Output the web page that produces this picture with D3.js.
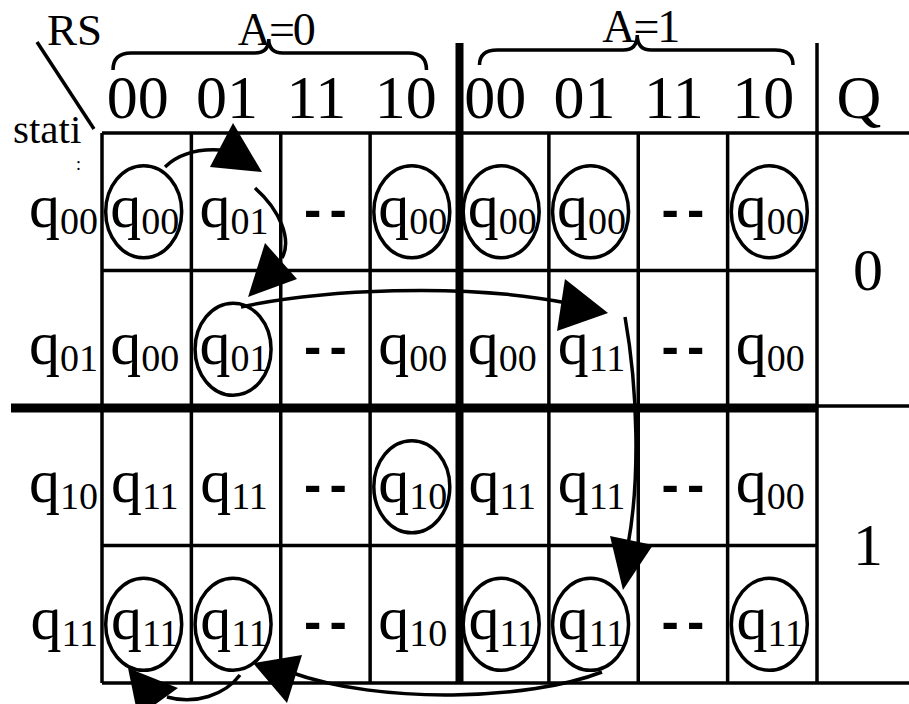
<!DOCTYPE html>
<html>
  <head>
    <meta charset="utf-8">
    <title>Tabella delle transizioni</title>
    <script src="https://cdn.jsdelivr.net/npm/d3@7"></script>
    <style>
      body {
        margin: 0;
        background: #fff;
      }
      svg {
        display: block;
      }
      text {
        font-family: 'Liberation Serif', 'Times New Roman', Times, serif;
      }
      .grid {
        stroke: #000;
        stroke-width: 3.5;
      }
      .thick {
        stroke: #000;
        stroke-width: 9;
      }
      .ring, .arrow, .brace {
        fill: none;
        stroke: #000;
        stroke-width: 3.5;
      }
    </style>
  </head>
  <body>
    <script type="text/javascript">

    // column codes RS, grouped by the input A
    const colCodes = ['00', '01', '11', '10', '00', '01', '11', '10'];
    const groupLabels = ['A=0', 'A=1'];
    // present states (subscripts of q)
    const rowStates = ['00', '01', '10', '11'];
    // next state for each row / column ('--' = don't care)
    const nextStates = [
      ['00', '01', '--', '00', '00', '00', '--', '00'],
      ['00', '01', '--', '00', '00', '11', '--', '00'],
      ['11', '11', '--', '10', '11', '11', '--', '00'],
      ['11', '11', '--', '10', '11', '11', '--', '11']
    ];
    // 1 = stable state (circled)
    const stable = [
      [1, 0, 0, 1, 1, 1, 0, 1],
      [0, 1, 0, 0, 0, 0, 0, 0],
      [0, 0, 0, 1, 0, 0, 0, 0],
      [1, 1, 0, 0, 1, 1, 0, 1]
    ];
    const outputLabels = ['0', '1'];
    // transitions followed in the table: [row, col] -> [row, col]
    const transitions = [
      [[0, 0], [0, 1]],
      [[0, 1], [1, 1]],
      [[1, 1], [1, 5]],
      [[1, 5], [3, 5]],
      [[3, 5], [3, 1]],
      [[3, 1], [3, 0]]
    ];

    const W = 909, H = 704;
    const serif = "'Liberation Serif', 'Times New Roman', Times, serif";

    const svg = d3.select('body').append('svg')
      .attr('width', W)
      .attr('height', H)
      .attr('font-family', serif);

    const x = d3.scaleLinear().domain([0, 8]).range([102, 817]);
    const y = d3.scaleLinear().domain([0, 4]).range([133, 683]);
    const cx = c => (x(c) + x(c + 1)) / 2;
    const cy = r => (y(r) + y(r + 1)) / 2;

    // grid lines
    const g = svg.append('g');
    g.append('line').attr('class', 'grid')
      .attr('x1', x(0)).attr('x2', W).attr('y1', y(0)).attr('y2', y(0));
    g.append('line').attr('class', 'grid')
      .attr('x1', x(0)).attr('x2', W).attr('y1', y(4)).attr('y2', y(4));
    [1, 3].forEach(r => {
      g.append('line').attr('class', 'grid')
        .attr('x1', x(0)).attr('x2', x(8)).attr('y1', y(r)).attr('y2', y(r));
    });
    g.append('line').attr('class', 'thick')
      .attr('x1', 11).attr('x2', x(8)).attr('y1', y(2)).attr('y2', y(2));
    g.append('line').attr('class', 'grid')
      .attr('x1', x(8)).attr('x2', W).attr('y1', y(2) - 2).attr('y2', y(2) - 2);

    d3.range(0, 9).forEach(c => {
      g.append('line')
        .attr('class', c === 4 ? 'thick' : 'grid')
        .style('stroke-width', c === 4 ? 8 : null)
        .attr('x1', x(c)).attr('x2', x(c))
        .attr('y1', (c === 4 || c === 8) ? 43 : y(0))
        .attr('y2', y(4));
    });

    // corner label
    svg.append('line').attr('class', 'grid')
      .attr('x1', 37).attr('y1', 42).attr('x2', 94).attr('y2', 129);
    svg.append('text').attr('x', 47).attr('y', 45)
      .style('font-size', '45px').text('RS');
    svg.append('text').attr('x', 13).attr('y', 143)
      .style('font-size', '41px').text('stati');
    svg.append('text').attr('x', 76).attr('y', 170)
      .style('font-size', '18px').text(':');

    // column headers
    svg.selectAll('.code')
      .data(colCodes).enter()
      .append('text')
      .attr('class', 'code')
      .attr('x', (d, i) => cx(i) - 9)
      .attr('y', y(0) - 15)
      .attr('text-anchor', 'middle')
      .style('font-size', '62px')
      .text(d => d);

    svg.append('text')
      .attr('x', (x(8) + W) / 2 - 4).attr('y', y(0) - 15)
      .attr('text-anchor', 'middle')
      .style('font-size', '62px')
      .text('Q');

    // braces with A labels
    function brace(x1, x2, xm, yH, yEnd, yTip) {
      return 'M' + x1 + ',' + yEnd +
        ' Q' + x1 + ',' + yH + ' ' + (x1 + 18) + ',' + yH +
        ' L' + (xm - 14) + ',' + yH +
        ' Q' + xm + ',' + yH + ' ' + xm + ',' + yTip +
        ' Q' + xm + ',' + yH + ' ' + (xm + 14) + ',' + yH +
        ' L' + (x2 - 18) + ',' + yH +
        ' Q' + x2 + ',' + yH + ' ' + x2 + ',' + yEnd;
    }
    const braces = [
      {x1: x(0) + 11, x2: x(4) - 33, xm: x(2) - 12, yH: 53, yEnd: 70, yTip: 39, tx: x(2) - 5, ty: 45},
      {x1: x(4) + 20, x2: x(8) - 24, xm: x(6) - 1, yH: 50, yEnd: 65, yTip: 35, tx: x(6) + 2, ty: 42}
    ];
    braces.forEach((b, i) => {
      svg.append('path').attr('class', 'brace')
        .attr('d', brace(b.x1, b.x2, b.xm, b.yH, b.yEnd, b.yTip));
      svg.append('text')
        .attr('x', b.tx).attr('y', b.ty)
        .attr('text-anchor', 'middle')
        .style('font-size', '46px')
        .style('letter-spacing', '-2px')
        .text(groupLabels[i]);
    });

    // row labels
    rowStates.forEach((s, r) => {
      const t = svg.append('text')
        .attr('x', x(0) - 4).attr('y', cy(r) + 25)
        .attr('text-anchor', 'end')
        .style('font-size', '62px');
      t.append('tspan').text('q');
      t.append('tspan').attr('dy', 7).style('font-size', '38px').text(s);
    });

    // cells
    nextStates.forEach((row, r) => {
      row.forEach((s, c) => {
        if (s === '--') {
          svg.append('text')
            .attr('x', cx(c) + 4).attr('y', cy(r) + 25)
            .attr('text-anchor', 'middle')
            .style('font-family', "'Liberation Sans', Arial, sans-serif")
            .style('font-weight', 'bold')
            .style('font-size', '52px')
            .style('letter-spacing', '8px')
            .text(s);
          return;
        }
        const t = svg.append('text')
          .attr('x', cx(c) - 2).attr('y', cy(r) + 25)
          .attr('text-anchor', 'middle')
          .style('font-size', '62px');
        t.append('tspan').text('q');
        t.append('tspan').attr('dy', 7).style('font-size', '38px').text(s);
        if (stable[r][c]) {
          svg.append('ellipse').attr('class', 'ring')
            .attr('cx', cx(c) - 3).attr('cy', cy(r) + 10)
            .attr('rx', 38).attr('ry', 46);
        }
      });
    });

    // output column
    outputLabels.forEach((q, i) => {
      svg.append('text')
        .attr('x', (x(8) + W) / 2 + 5)
        .attr('y', y(2 * i + 1) + 19)
        .attr('text-anchor', 'middle')
        .style('font-size', '60px')
        .text(q);
    });

    // arrows, shapes in cell units (col, row)
    const arrowShapes = [
      {p: [[0.705, 0.247], [0.929, 0.109], [1.32, 0.124]], h: [[1.466, -0.073], [1.208, 0.247], [1.79, 0.284]]},
      {p: [[1.712, 0.4], [1.992, 0.56], [2.126, 0.778], [2.014, 0.909]], h: [[1.824, 0.8], [1.634, 1.193], [2.182, 1.062]]},
      {p: [[1.555, 1.265], [2.439, 1.142], [4.006, 1.084], [5.203, 1.236]], h: [[5.18, 1.062], [5.091, 1.44], [5.662, 1.309]]},
      {p: [[5.852, 1.338], [5.997, 1.869], [6.02, 2.524], [5.885, 2.996]], h: [[5.684, 2.931], [6.165, 2.996], [5.829, 3.324]]},
      {p: [[5.594, 3.92], [4.789, 4.124], [3.111, 4.16], [2.103, 3.92]], h: [[2.238, 3.796], [1.69, 3.855], [2.07, 4.145]]},
      {p: [[1.544, 3.942], [1.376, 4.087], [1.041, 4.16], [0.727, 4.102]], h: [[0.291, 3.891], [0.85, 4.036], [0.403, 4.247]]}
    ];
    const pt = d => x(d[0]) + ',' + y(d[1]);

    transitions.forEach((tr, i) => {
      const s = arrowShapes[i];
      const cmd = s.p.length === 3 ? ' Q' : ' C';
      svg.append('path').attr('class', 'arrow')
        .attr('d', 'M' + pt(s.p[0]) + cmd + s.p.slice(1).map(pt).join(' '));
      svg.append('polygon')
        .attr('points', s.h.map(pt).join(' '))
        .attr('fill', '#000');
    });
    </script>
  </body>
</html>
